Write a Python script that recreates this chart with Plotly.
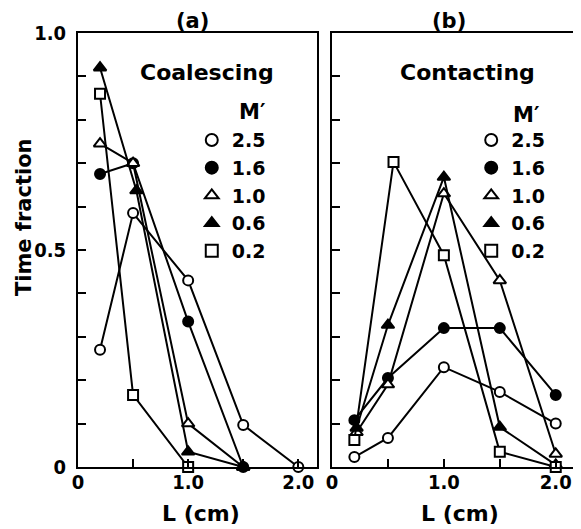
import plotly.graph_objects as go

# ---- data ----
m_labels = ["2.5", "1.6", "1.0", "0.6", "0.2"]
symbols = ["circle", "circle", "triangle-up", "triangle-up", "square"]
filled = [False, True, False, True, False]

# Panel (a) Coalescing
a_x = {
    "2.5": [0.2, 0.5, 1.0, 1.5, 2.0],
    "1.6": [0.2, 0.5, 1.0, 1.5],
    "1.0": [0.2, 0.5, 1.0, 1.5],
    "0.6": [0.2, 0.53, 1.0, 1.5],
    "0.2": [0.2, 0.5, 1.0],
}
a_y = {
    "2.5": [0.27, 0.585, 0.43, 0.097, 0.0],
    "1.6": [0.675, 0.70, 0.335, 0.0],
    "1.0": [0.745, 0.70, 0.10, 0.0],
    "0.6": [0.92, 0.637, 0.035, 0.0],
    "0.2": [0.86, 0.166, 0.0],
}

# Panel (b) Contacting
b_x = {
    "2.5": [0.2, 0.5, 1.0, 1.5, 2.0],
    "1.6": [0.2, 0.5, 1.0, 1.5, 2.0],
    "1.0": [0.22, 0.5, 1.0, 1.5, 2.0],
    "0.6": [0.22, 0.5, 1.0, 1.5, 2.0],
    "0.2": [0.2, 0.55, 1.0, 1.5, 2.0],
}
b_y = {
    "2.5": [0.023, 0.067, 0.23, 0.173, 0.10],
    "1.6": [0.108, 0.205, 0.32, 0.32, 0.166],
    "1.0": [0.08, 0.19, 0.63, 0.43, 0.03],
    "0.6": [0.09, 0.327, 0.668, 0.092, 0.005],
    "0.2": [0.062, 0.703, 0.488, 0.035, 0.0],
}

y_tickvals = [0.0, 0.1, 0.2, 0.3, 0.4, 0.5, 0.6, 0.7, 0.8, 0.9, 1.0]
y_ticktext = ["0", "", "", "", "", "0.5", "", "", "", "", "1.0"]
x_tickvals = [0.0, 0.5, 1.0, 1.5, 2.0]
x_ticktext = ["0", "", "1.0", "", "2.0"]

FONT = "DejaVu Sans"
TICKFONT = "Liberation Sans Narrow, DejaVu Sans Condensed, DejaVu Sans"
fig = go.Figure()

def add_panel(xs, ys, xaxis, yaxis, legend):
    for lab, sym, fl in zip(m_labels, symbols, filled):
        mk = dict(symbol=sym, size=10 if "triangle" not in sym else 11,
                  color="black" if fl else "white",
                  line=dict(color="black", width=2))
        fig.add_trace(go.Scatter(
            x=xs[lab], y=ys[lab], mode="lines+markers",
            line=dict(color="black", width=2), marker=mk,
            xaxis=xaxis, yaxis=yaxis, showlegend=False, cliponaxis=False))
        fig.add_trace(go.Scatter(
            x=[None], y=[None], mode="markers", name=lab, marker=mk,
            xaxis=xaxis, yaxis=yaxis, showlegend=True, legend=legend))

add_panel(a_x, a_y, "x", "y", "legend")
add_panel(b_x, b_y, "x2", "y2", "legend2")

axis_common = dict(showline=True, linecolor="black", linewidth=2, mirror=True,
                   ticks="inside", ticklen=8, tickwidth=2, tickcolor="black",
                   showgrid=False, zeroline=False, automargin=False,
                   tickfont=dict(family=TICKFONT, size=20, color="black", weight="bold"))

legend_common = dict(font=dict(family=FONT, size=19, color="black", weight="bold"),
                     bgcolor="rgba(0,0,0,0)", tracegroupgap=0,
                     itemsizing="constant", xanchor="left", yanchor="top",
                     borderwidth=0)

# page body has an 8px default margin; figure is sized to fit the window
fig.update_layout(
    width=573, height=521,
    margin=dict(l=70, r=4, t=25, b=62),
    paper_bgcolor="white", plot_bgcolor="white",
    xaxis=dict(domain=[0, 0.479], range=[0, 2.17], tickvals=x_tickvals,
               ticktext=x_ticktext, ticklabelstandoff=-4, **axis_common),
    yaxis=dict(domain=[0, 1], range=[0, 1.0], tickvals=y_tickvals,
               ticktext=y_ticktext, ticklabelstandoff=6, **axis_common),
    xaxis2=dict(domain=[0.509, 1.0], range=[0, 2.19], tickvals=x_tickvals,
                ticktext=x_ticktext, anchor="y2", ticklabelstandoff=-4,
                **axis_common),
    yaxis2=dict(domain=[0, 1], range=[0, 1.0], tickvals=y_tickvals,
                anchor="x2", showticklabels=False,
                **{k: v for k, v in axis_common.items() if k != "tickfont"}),
    legend=dict(x=0.228, y=0.797, **legend_common),
    legend2=dict(x=0.788, y=0.797, **legend_common),
    showlegend=True,
)

big = dict(family=FONT, size=22, color="black", weight="bold")
mid = dict(family=FONT, size=21, color="black", weight="bold")

def ann(text, x, y, font, angle=0):
    fig.add_annotation(text=text, x=x, xref="paper", y=y, yref="paper",
                       showarrow=False, font=font, textangle=angle,
                       xanchor="center", yanchor="middle")

ann("(a)", 0.2285, 1.028, mid)
ann("(b)", 0.743, 1.028, mid)
ann("Coalescing", 0.2585, 0.910, big)
ann("Contacting", 0.780, 0.910, big)
ann("M′", 0.349, 0.818, mid)
ann("M′", 0.898, 0.812, mid)
ann("Time fraction", -0.108, 0.576, mid, angle=-90)
ann("L (cm)", 0.246, -0.108, big)
ann("L (cm)", 0.766, -0.108, big)

fig.write_html("out.html")
